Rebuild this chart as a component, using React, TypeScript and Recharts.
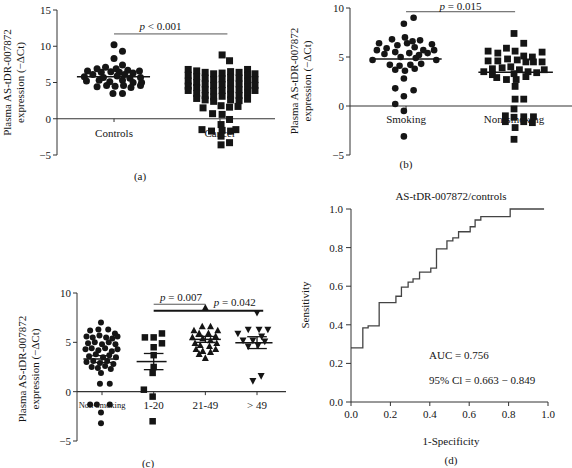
import type { ReactNode } from "react";
import { Line, LineChart, ReferenceLine, Scatter, ScatterChart, XAxis, YAxis } from "recharts";

const FONT = "'Liberation Serif', 'DejaVu Serif', serif";
const INK = "#151515";
const AXIS = "#333";

// (a) controls vs cancer: [jitter, -dCt]
const controlsA: [number, number][] = [
  [0.0, 10.2], [0.08, 9.3], [0.0, 8.3], [0.08, 7.4],
  [-0.25, 6.6], [-0.16, 6.9], [-0.08, 7.1], [0.02, 6.9], [0.13, 6.7], [0.24, 6.6],
  [-0.2, 6.1], [-0.12, 6.4], [-0.03, 6.5], [0.05, 6.4], [0.1, 6.1], [0.18, 6.3],
  [-0.28, 5.8], [-0.1, 5.7], [0.03, 5.9], [0.15, 5.6], [0.25, 5.7],
  [-0.26, 5.2], [-0.14, 5.3], [-0.04, 5.1], [0.08, 5.3], [0.18, 5.0], [0.26, 5.0],
  [-0.16, 4.4], [-0.07, 4.6], [0.01, 4.5], [0.09, 4.6], [0.16, 4.3], [0.25, 4.6],
  [-0.01, 3.5], [0.08, 3.5],
];
const cancerA: [number, number][] = [
  [-0.3, 6.8], [-0.3, 6.0], [-0.3, 5.2], [-0.3, 4.5], [-0.3, 3.9],
  [-0.22, 6.6], [-0.22, 5.8], [-0.22, 5.0], [-0.22, 4.3], [-0.22, 3.5], [-0.22, 2.8],
  [-0.14, 6.4], [-0.14, 5.6], [-0.14, 4.8], [-0.14, 4.0], [-0.14, 3.2], [-0.14, 2.6],
  [-0.06, 6.2], [-0.06, 5.4], [-0.06, 4.6], [-0.06, 3.8], [-0.06, 3.0], [-0.06, 2.4],
  [0.02, 6.3], [0.02, 5.5], [0.02, 4.7], [0.02, 3.9], [0.02, 3.1],
  [0.1, 6.5], [0.1, 5.7], [0.1, 4.9], [0.1, 4.1], [0.1, 3.3], [0.1, 2.6],
  [0.18, 6.4], [0.18, 5.6], [0.18, 4.8], [0.18, 4.0], [0.18, 3.2], [0.18, 2.5],
  [0.26, 6.8], [0.26, 6.0], [0.26, 5.2], [0.26, 4.4], [0.26, 3.6], [0.26, 2.7],
  [0.33, 6.2], [0.33, 5.4], [0.33, 4.6], [0.33, 3.9],
  [0.02, 8.8], [0.09, 8.0], [-0.16, 1.5], [0.01, 1.8], [0.09, 1.6], [0.17, 1.7],
  [-0.07, 0.7], [0.02, 0.6], [0.09, -0.1], [0.01, -0.8],
  [-0.17, -1.5], [-0.08, -1.7], [0.02, -1.6], [0.1, -1.7], [0.15, -1.5],
  [0.01, -2.4], [0.01, -3.6], [0.09, -3.3],
];
const meanA = [5.8];

// (b) smoking vs non-smoking
const smokingB: [number, number][] = [
  [0.07, 9.0], [-0.02, 8.4],
  [-0.25, 6.4], [-0.13, 6.8], [-0.01, 7.0], [0.06, 6.6], [0.13, 6.7], [0.24, 6.3],
  [-0.27, 5.7], [-0.18, 5.9], [-0.08, 6.2], [0.01, 6.4], [0.08, 6.0], [0.16, 5.7], [0.26, 5.7],
  [-0.2, 5.3], [-0.1, 5.5], [0.03, 5.4], [0.12, 5.2], [0.2, 5.4],
  [-0.31, 4.7], [-0.05, 5.0], [0.09, 4.9], [0.28, 4.7],
  [-0.15, 4.2], [-0.06, 4.1], [0.04, 4.2], [0.14, 4.3],
  [-0.1, 3.7], [-0.01, 3.6], [0.08, 3.8],
  [-0.02, 2.8], [-0.1, 1.8], [0.07, 1.6], [-0.02, 1.0], [-0.1, 0.2], [-0.02, -0.5], [-0.02, -3.1],
];
const nonSmokingB: [number, number][] = [
  [0.0, 7.4], [0.09, 6.4],
  [-0.24, 5.6], [-0.15, 5.4], [-0.07, 5.9], [0.01, 5.6], [0.09, 5.1], [0.17, 5.0], [0.26, 5.5],
  [-0.24, 4.6], [-0.15, 4.6], [-0.06, 4.8], [0.03, 4.7], [0.11, 4.5], [0.18, 4.5], [0.26, 4.5],
  [-0.28, 3.5], [-0.2, 3.8], [-0.11, 3.9], [-0.03, 4.0], [0.05, 3.7], [0.13, 3.5], [0.21, 3.4], [0.28, 3.7],
  [-0.16, 2.9], [-0.07, 2.7], [0.02, 2.7], [0.11, 3.0], [-0.2, 3.2], [0.0, 3.3],
  [0.01, 2.0], [0.01, 0.7], [0.09, 0.7], [0.0, -0.3],
  [-0.08, -1.0], [0.0, -1.15], [0.09, -1.1], [0.18, -1.1],
  [-0.08, -1.6], [0.09, -1.6], [0.17, -1.7],
  [0.01, -2.2], [0.0, -3.4],
];
const meanB = [4.8, 3.44];

// (c) by smoking amount
const nonSmokingC: [number, number][] = [
  [-0.02, 7.0], [-0.23, 6.2], [-0.07, 6.3], [0.12, 6.3], [0.25, 5.9],
  [-0.3, 5.6], [-0.18, 5.5], [-0.05, 5.7], [0.08, 5.5], [0.2, 5.4], [0.3, 5.6],
  [-0.27, 4.9], [-0.14, 5.0], [0.0, 4.8], [0.13, 5.0], [0.26, 4.8],
  [-0.32, 4.3], [-0.2, 4.4], [-0.07, 4.2], [0.06, 4.4], [0.19, 4.1], [0.3, 4.3],
  [-0.25, 3.6], [-0.12, 3.8], [0.02, 3.5], [0.14, 3.7], [0.27, 3.5],
  [-0.3, 3.0], [-0.17, 3.1], [-0.04, 2.9], [0.1, 3.1], [0.22, 2.8],
  [-0.2, 2.5], [-0.08, 2.4], [0.06, 2.6], [0.17, 2.3],
  [-0.02, 1.9], [-0.04, 0.8], [0.15, 0.8],
  [-0.23, -1.3], [-0.1, -1.3], [0.15, -1.3], [-0.02, -2.1], [-0.02, -3.2],
];
const lightC: [number, number][] = [
  [-0.17, 5.5], [0.0, 5.5], [0.16, 5.9], [0.16, 4.9], [0.0, 4.5], [0.0, 3.7],
  [0.0, 2.5], [-0.02, 1.9], [-0.19, 0.2], [-0.02, -0.5], [-0.02, -3.0],
];
const mediumC: [number, number][] = [
  [0.0, 8.5], [-0.06, 6.6], [0.1, 6.6], [-0.22, 6.2], [0.24, 6.2], [-0.12, 5.9], [0.06, 5.9],
  [-0.25, 5.5], [0.2, 5.6], [-0.05, 5.4], [0.1, 5.2], [-0.2, 4.9], [0.22, 4.9], [-0.1, 4.7],
  [0.08, 4.6], [-0.18, 4.3], [0.2, 4.3], [-0.05, 4.1], [0.1, 4.0], [-0.12, 3.8], [0.0, 3.4],
];
const heavyC: [number, number][] = [
  [0.0, 8.0], [-0.37, 5.9], [-0.17, 6.3], [0.04, 6.3], [0.21, 6.3], [-0.27, 5.2], [-0.08, 5.2],
  [0.09, 5.6], [0.15, 5.1], [-0.17, 4.6], [0.02, 4.7], [-0.08, 1.1], [0.08, 1.6],
];
const meanC = [3.3, 3.05, 5.3, 4.97];
const semC = [0.35, 0.82, 0.3, 0.6];

// (d) ROC
const rocFpr = [0, 0.06, 0.087, 0.143, 0.228, 0.256, 0.29, 0.315, 0.348, 0.405, 0.434, 0.487, 0.517, 0.546, 0.605, 0.63, 0.659, 0.808, 0.98];
const rocSens = [0.28, 0.384, 0.394, 0.515, 0.548, 0.595, 0.621, 0.638, 0.673, 0.694, 0.793, 0.835, 0.85, 0.882, 0.908, 0.943, 0.96, 1.0, 1.0];
const rocTicks = [0, 0.2, 0.4, 0.6, 0.8, 1.0];

const dot = (r: number) => (p: any) => <circle cx={p.cx} cy={p.cy} r={r} fill={INK} />;
const square = (s: number) => (p: any) => (
  <rect x={p.cx - s / 2} y={p.cy - s / 2} width={s} height={s} fill={INK} />
);
const triUp = (s: number) => (p: any) => (
  <path d={`M${p.cx},${p.cy - s * 0.55}L${p.cx + s / 2},${p.cy + s * 0.4}L${p.cx - s / 2},${p.cy + s * 0.4}Z`} fill={INK} />
);
const triDown = (s: number) => (p: any) => (
  <path d={`M${p.cx},${p.cy + s * 0.55}L${p.cx + s / 2},${p.cy - s * 0.4}L${p.cx - s / 2},${p.cy - s * 0.4}Z`} fill={INK} />
);

const fmtY = (v: number) => (v < 0 ? `\u2212${-v}` : `${v}`);
const tickStyle = { fontSize: 11, fill: INK, fontFamily: FONT };

function segLabel(content: ReactNode, fx: number, dy: number, size = 11) {
  return (props: any) => {
    const vb = props.viewBox ?? {};
    return (
      <text
        x={(vb.x ?? 0) + fx * (vb.width ?? 0)}
        y={(vb.y ?? 0) + dy}
        textAnchor="middle"
        dominantBaseline="central"
        fontSize={size}
        fontFamily={FONT}
        fill={INK}
      >
        {content}
      </text>
    );
  };
}

type Group = {
  pos: number;
  label: string;
  labelSize?: number;
  pts: [number, number][];
  shape: (p: any) => ReactNode;
  mean?: number;
  sem?: number;
  half?: [number, number];
};

type Bracket = { from: number; to: number; y: number; text: string; fx: number; dy: number; width?: number; color?: string };

type PanelProps = {
  box: [number, number, number, number];
  margin: { top: number; right: number; bottom: number; left: number };
  yWidth: number;
  xDomain: [number, number];
  yDomain: [number, number];
  yTicks: number[];
  groups: Group[];
  brackets: Bracket[];
  tickLen: number;
  labelDy: number;
  cap: number;
};

function DotPanel({ box, margin, yWidth, xDomain, yDomain, yTicks, groups, brackets, tickLen, labelDy, cap }: PanelProps) {
  return (
    <div style={{ position: "absolute", left: box[0], top: box[1] }}>
      <ScatterChart width={box[2]} height={box[3]} margin={margin}>
        <XAxis type="number" dataKey="x" domain={xDomain} hide allowDataOverflow />
        <YAxis
          type="number"
          dataKey="y"
          domain={yDomain}
          ticks={yTicks}
          interval={0}
          width={yWidth}
          tickSize={4}
          tickMargin={2}
          tick={tickStyle}
          stroke={AXIS}
          tickFormatter={fmtY}
          allowDataOverflow
        />
        <ReferenceLine y={0} stroke={AXIS} strokeWidth={1.2} />
        {groups.map((g) => (
          <ReferenceLine
            key={`tick-${g.label}`}
            segment={[{ x: g.pos, y: 0 }, { x: g.pos, y: -tickLen }]}
            stroke={AXIS}
            label={segLabel(g.label, 0, labelDy, g.labelSize ?? 11)}
          />
        ))}
        {groups.map((g) => (
          <Scatter
            key={g.label}
            data={g.pts.map(([dx, y]) => ({ x: g.pos + dx, y }))}
            shape={g.shape as any}
            isAnimationActive={false}
          />
        ))}
        {groups.map((g) =>
          g.mean === undefined ? null : (
            <ReferenceLine
              key={`mean-${g.label}`}
              segment={[{ x: g.pos + (g.half ?? [-0.33, 0.33])[0], y: g.mean }, { x: g.pos + (g.half ?? [-0.33, 0.33])[1], y: g.mean }]}
              stroke={INK}
              strokeWidth={1.5}
            />
          )
        )}
        {groups.flatMap((g) =>
          g.mean === undefined || g.sem === undefined
            ? []
            : [
                <ReferenceLine key={`sv-${g.label}`} segment={[{ x: g.pos, y: g.mean - g.sem }, { x: g.pos, y: g.mean + g.sem }]} stroke={INK} strokeWidth={1.3} />,
                <ReferenceLine key={`su-${g.label}`} segment={[{ x: g.pos - cap, y: g.mean + g.sem }, { x: g.pos + cap, y: g.mean + g.sem }]} stroke={INK} strokeWidth={1.3} />,
                <ReferenceLine key={`sl-${g.label}`} segment={[{ x: g.pos - cap, y: g.mean - g.sem }, { x: g.pos + cap, y: g.mean - g.sem }]} stroke={INK} strokeWidth={1.3} />,
              ]
        )}
        {brackets.map((b) => (
          <ReferenceLine
            key={b.text}
            segment={[{ x: b.from, y: b.y }, { x: b.to, y: b.y }]}
            stroke={b.color ?? "#555"}
            strokeWidth={b.width ?? 1}
            label={segLabel(
              <>
                <tspan fontStyle="italic">p</tspan>
                {b.text}
              </>,
              b.fx,
              b.dy
            )}
          />
        ))}
      </ScatterChart>
    </div>
  );
}

function YTitle({ x, y }: { x: number; y: number }) {
  return (
    <g transform={`translate(${x},${y}) rotate(-90)`}>
      <text x={0} y={0} textAnchor="middle" dominantBaseline="central" fontSize={11} fill={INK} fontFamily={FONT}>
        Plasma AS-tDR-007872
      </text>
      <text x={0} y={13} textAnchor="middle" dominantBaseline="central" fontSize={11} fill={INK} fontFamily={FONT}>
        {"expression (\u2212\u0394Ct)"}
      </text>
    </g>
  );
}

export default function App() {
  const rocData = rocFpr.map((fpr, i) => ({ fpr, sens: rocSens[i] }));
  const txt = { fontSize: 11, fill: INK, fontFamily: FONT } as const;

  return (
    <div style={{ position: "absolute", left: 0, top: 0, width: 572, height: 468, background: "#fff", fontFamily: FONT }}>
      <DotPanel
        box={[0, 0, 286, 180]}
        margin={{ top: 10, right: 11, bottom: 25, left: 0 }}
        yWidth={57}
        xDomain={[0.462, 2.519]}
        yDomain={[-5, 15]}
        yTicks={[-5, 0, 5, 10, 15]}
        tickLen={0.45}
        labelDy={14.5}
        cap={0.18}
        groups={[
          { pos: 1, label: "Controls", pts: controlsA, shape: dot(3.5), mean: meanA[0], half: [-0.35, 0.34] },
          { pos: 2, label: "Cancer", pts: cancerA, shape: square(7) },
        ]}
        brackets={[{ from: 1, to: 2.07, y: 11.7, text: " < 0.001", fx: 0.41, dy: -8 }]}
      />
      <DotPanel
        box={[286, 0, 286, 180]}
        margin={{ top: 8, right: 0, bottom: 25, left: 0 }}
        yWidth={64}
        xDomain={[0.481, 2.537]}
        yDomain={[-5, 10]}
        yTicks={[-5, 0, 5, 10]}
        tickLen={0.35}
        labelDy={13.3}
        cap={0.18}
        groups={[
          { pos: 1, label: "Smoking", pts: smokingB, shape: dot(3.3), mean: meanB[0], half: [-0.32, 0.33] },
          { pos: 2, label: "Non-smoking", pts: nonSmokingB, shape: square(6.8), mean: meanB[1], half: [-0.33, 0.36] },
        ]}
        brackets={[{ from: 1, to: 2.01, y: 9.62, text: " = 0.015", fx: 0.5, dy: -6 }]}
      />
      <DotPanel
        box={[0, 280, 286, 180]}
        margin={{ top: 13, right: 0, bottom: 19, left: 0 }}
        yWidth={77}
        xDomain={[0.516, 4.561]}
        yDomain={[-5, 10]}
        yTicks={[-5, 0, 5, 10]}
        tickLen={0.35}
        labelDy={13.3}
        cap={0.19}
        groups={[
          { pos: 1, label: "Non-smoking", labelSize: 8.5, pts: nonSmokingC, shape: dot(3), mean: meanC[0], sem: semC[0], half: [-0.36, 0.32] },
          { pos: 2, label: "1-20", pts: lightC, shape: square(6.5), mean: meanC[1], sem: semC[1], half: [-0.33, 0.25] },
          { pos: 3, label: "21-49", pts: mediumC, shape: triUp(7), mean: meanC[2], sem: semC[2], half: [-0.27, 0.3] },
          { pos: 4, label: "> 49", pts: heavyC, shape: triDown(7), mean: meanC[3], sem: semC[3], half: [-0.42, 0.3] },
        ]}
        brackets={[
          { from: 2, to: 3, y: 8.86, text: " = 0.007", fx: 0.53, dy: -7.3 },
          { from: 2, to: 4.12, y: 8.2, text: " = 0.042", fx: 0.74, dy: -8.3, width: 2, color: INK },
        ]}
      />
      <div style={{ position: "absolute", left: 286, top: 190 }}>
        <LineChart width={286} height={240} data={rocData} margin={{ top: 19, right: 24, bottom: 0, left: 0 }}>
          <XAxis
            type="number"
            dataKey="fpr"
            domain={[0, 1]}
            ticks={rocTicks}
            interval={0}
            height={28}
            tickSize={4}
            tickMargin={4}
            tick={tickStyle}
            stroke={AXIS}
            tickFormatter={(v: number) => v.toFixed(1)}
          />
          <YAxis
            type="number"
            domain={[0, 1]}
            ticks={rocTicks}
            interval={0}
            width={65}
            tickSize={5}
            tickMargin={3}
            tick={tickStyle}
            stroke={AXIS}
            tickFormatter={(v: number) => v.toFixed(1)}
          />
          <Line type="stepAfter" dataKey="sens" stroke="#444" strokeWidth={1.3} dot={false} isAnimationActive={false} />
        </LineChart>
      </div>
      <svg width={572} height={468} style={{ position: "absolute", left: 0, top: 0, pointerEvents: "none" }}>
        <YTitle x={6.7} y={82.5} />
        <YTitle x={293.5} y={81} />
        <YTitle x={21.5} y={369} />
        <text x={140} y={176} textAnchor="middle" dominantBaseline="central" {...txt}>(a)</text>
        <text x={406} y={164} textAnchor="middle" dominantBaseline="central" {...txt}>(b)</text>
        <text x={148} y={463} textAnchor="middle" dominantBaseline="central" {...txt}>(c)</text>
        <text x={451} y={460} textAnchor="middle" dominantBaseline="central" {...txt}>(d)</text>
        <text x={451} y={196} textAnchor="middle" dominantBaseline="central" {...txt}>AS-tDR-007872/controls</text>
        <text x={451} y={441} textAnchor="middle" dominantBaseline="central" {...txt}>1-Specificity</text>
        <text transform="translate(305,305) rotate(-90)" textAnchor="middle" dominantBaseline="central" {...txt}>Sensitivity</text>
        <text x={429} y={355} dominantBaseline="central" {...txt}>AUC = 0.756</text>
        <text x={429} y={380} dominantBaseline="central" {...txt}>{"95% Cl = 0.663 \u2212 0.849"}</text>
      </svg>
    </div>
  );
}
